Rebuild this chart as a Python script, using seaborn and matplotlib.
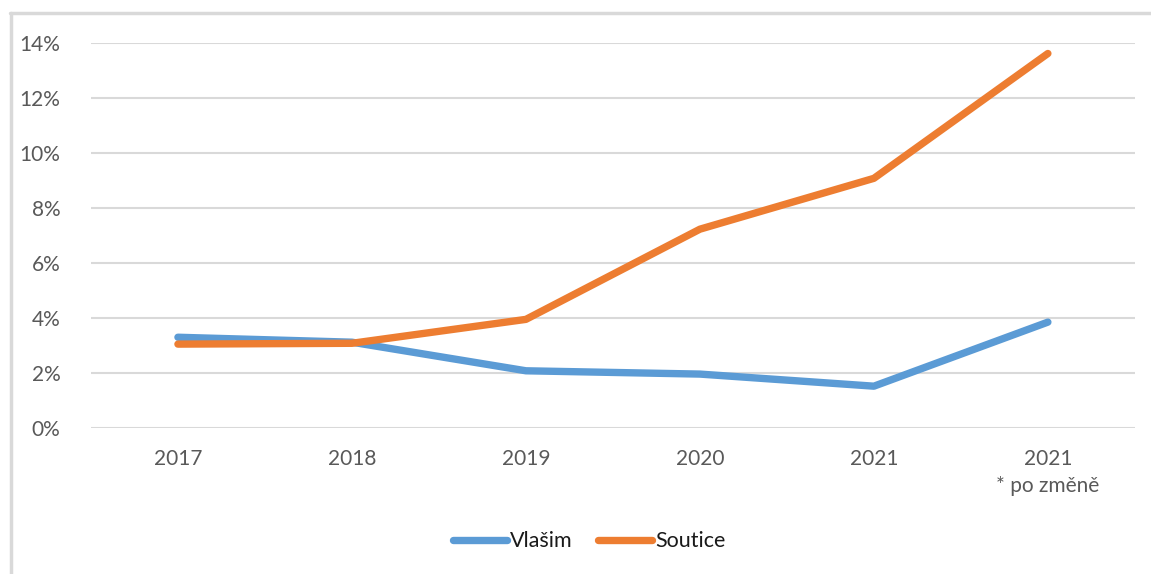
import pandas as pd
import matplotlib.pyplot as plt
import seaborn as sns
from matplotlib.lines import Line2D

years = ["2017", "2018", "2019", "2020", "2021", "2021\n* po změně"]
vlasim = [3.3, 3.12, 2.08, 1.96, 1.52, 3.85]
soutice = [3.05, 3.08, 3.95, 7.23, 9.08, 13.62]
series_names = ["Vlašim", "Soutice"]
colors = ["#5B9BD5", "#ED7D31"]

df = pd.DataFrame({
    "Rok": years * 2,
    "Hodnota": vlasim + soutice,
    "Obec": [series_names[0]] * len(years) + [series_names[1]] * len(years),
})
df["pos"] = list(range(len(years))) * 2

sns.set_style("white")
plt.rcParams["font.family"] = ["Lato", "DejaVu Sans"]

fig = plt.figure(figsize=(11.51, 5.74), dpi=100)
ax = fig.add_axes([0.079, 0.2544, 0.907, 0.6706])

sns.lineplot(data=df, x="pos", y="Hodnota", hue="Obec", palette=colors,
             linewidth=5.3, ax=ax, legend=False, solid_capstyle="round")

ax.set_xlim(-0.5, len(years) - 0.5)
ax.set_ylim(0, 14)
ax.set_yticks(range(0, 15, 2))
ax.set_yticklabels([f"{v}%" for v in range(0, 15, 2)])
ax.set_xticks(range(len(years)))
ax.set_xticklabels(years, linespacing=1.45)
ax.tick_params(axis="both", length=0, labelsize=15, labelcolor="#595959")
ax.tick_params(axis="y", pad=22)
ax.tick_params(axis="x", pad=15)
ax.yaxis.grid(True, color="#d9d9d9", linewidth=1.5)
ax.set_axisbelow(True)
for s in ax.spines.values():
    s.set_visible(False)
ax.set_xlabel("")
ax.set_ylabel("")

# legend at the bottom
handles = [Line2D([], [], color=c, linewidth=5.3, solid_capstyle="round") for c in colors]
fig.legend(handles, series_names, loc="center", bbox_to_anchor=(0.512, 0.057),
           ncol=2, frameon=False, fontsize=15.5, handlelength=2.5,
           handletextpad=0.15, columnspacing=1.2, labelcolor="#1a1a1a")

# chart frame (left and top edges)
fig.add_artist(Line2D([0.0095, 0.0095], [0, 0.977], color="#d9d9d9", linewidth=2.5,
                      transform=fig.transFigure))
fig.add_artist(Line2D([0.0085, 1.0], [0.977, 0.977], color="#d9d9d9", linewidth=2.5,
                      transform=fig.transFigure))

fig.savefig("out.png", dpi=100)
